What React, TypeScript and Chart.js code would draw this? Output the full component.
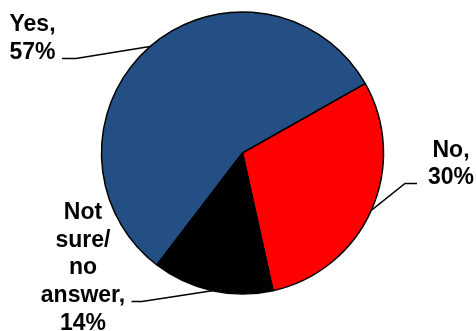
import { useEffect, useRef } from "react";
import { Chart, ArcElement, PieController } from "chart.js";

Chart.register(ArcElement, PieController);

const categories = ["Yes", "No", "Not sure/no answer"];
const shares = [57, 30, 14];
const sliceColors = ["#244F85", "#FF0000", "#000000"];
const labelLines = [["Yes,"], ["No,"], ["Not", "sure/", "no", "answer,"]];

// Callout placement: text centre x, first baseline y, leader elbow and tail end.
const callouts = [
  { x: 32.5, y: 31, elbow: [76, 58.5], end: [62, 58.5] },
  { x: 451, y: 156.7, elbow: [405, 183.5], end: [417, 183.5] },
  { x: 83, y: 219, elbow: [142, 301.5], end: [131.5, 301.5] },
];
const LINE_HEIGHT = 27.7;
const FONT = "bold 23px 'Liberation Sans', Arial, sans-serif";

const calloutPlugin = {
  id: "callouts",
  afterDatasetsDraw(chart: any) {
    const ctx = chart.ctx as CanvasRenderingContext2D;
    const meta = chart.getDatasetMeta(0);
    ctx.save();
    meta.data.forEach((arc: any, i: number) => {
      const { x, y, startAngle, endAngle, outerRadius } = arc.getProps(
        ["x", "y", "startAngle", "endAngle", "outerRadius"],
        true
      );
      const mid = (startAngle + endAngle) / 2;
      const sx = x + Math.cos(mid) * outerRadius;
      const sy = y + Math.sin(mid) * outerRadius;
      const c = callouts[i];
      ctx.strokeStyle = "#000";
      ctx.lineWidth = 1.5;
      ctx.beginPath();
      ctx.moveTo(sx, sy);
      ctx.lineTo(c.elbow[0], c.elbow[1]);
      ctx.lineTo(c.end[0], c.end[1]);
      ctx.stroke();

      const lines = [...labelLines[i], `${shares[i]}%`];
      ctx.fillStyle = "#000";
      ctx.font = FONT;
      ctx.textAlign = "center";
      ctx.textBaseline = "alphabetic";
      lines.forEach((t, k) => ctx.fillText(t, c.x, c.y + k * LINE_HEIGHT));
    });
    ctx.restore();
  },
};

export default function App() {
  const canvasRef = useRef<HTMLCanvasElement | null>(null);

  useEffect(() => {
    if (!canvasRef.current) return;
    const chart = new Chart(canvasRef.current, {
      type: "pie",
      data: {
        labels: categories,
        datasets: [
          {
            data: shares,
            backgroundColor: sliceColors,
            borderColor: "#000000",
            borderWidth: 1.5,
          },
        ],
      },
      options: {
        responsive: false,
        animation: false,
        rotation: 217.4,
        radius: 141,
        layout: { padding: { left: 101, right: 92, top: 12, bottom: 37 } },
        plugins: { legend: { display: false }, tooltip: { enabled: false } },
        events: [],
      },
      plugins: [calloutPlugin],
    });
    return () => chart.destroy();
  }, []);

  return (
    <div style={{ position: "fixed", left: 0, top: 0, width: 476, height: 331, background: "#fff" }}>
      <canvas ref={canvasRef} width={476} height={331} />
    </div>
  );
}
